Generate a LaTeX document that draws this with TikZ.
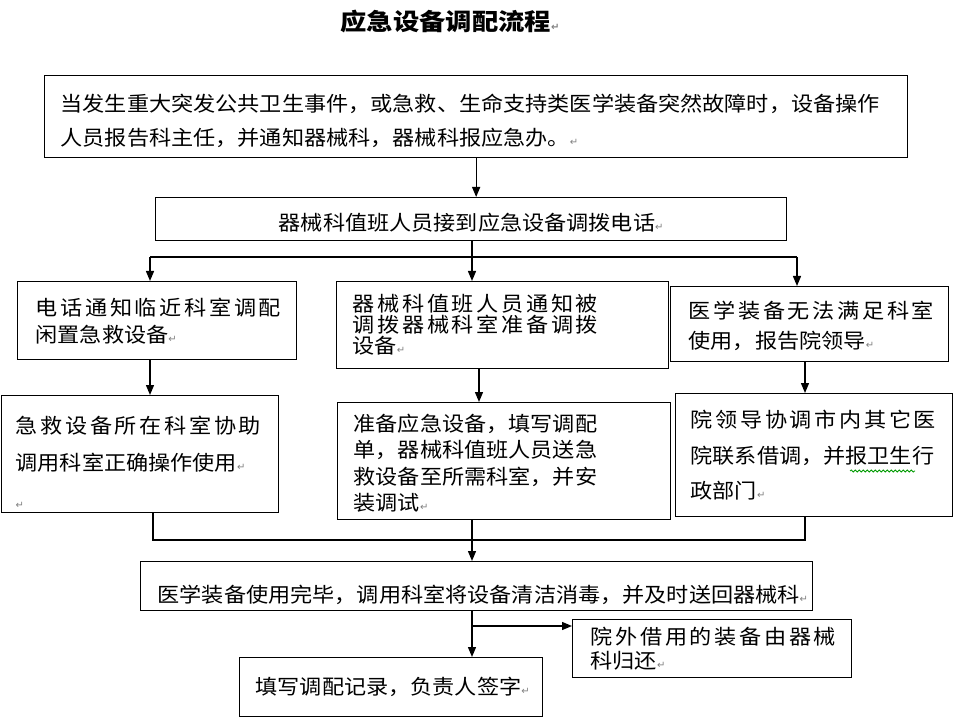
\documentclass[tikz,border=0pt]{standalone}
\usepackage{fontspec}
\usetikzlibrary{arrows.meta,decorations.pathmorphing}
\newfontfamily\cjk[FakeStretch=1.08]{Noto Sans CJK SC}
\newfontfamily\cjkw[FakeStretch=1.08,LetterSpace=13]{Noto Sans CJK SC}
\newfontfamily\cjkt[FakeStretch=1.12]{Noto Sans CJK SC}
\newfontfamily\djv{DejaVu Sans}
\newcommand\ret{{\djv\fontsize{10}{10}\selectfont\textcolor{gray}{↵}}}
\newcommand\dn[1]{\rule{0pt}{#1}}
\begin{document}
\begin{tikzpicture}[x=1pt,y=-1pt,line width=1.3pt,
  arr/.style={-{Triangle[length=10pt,width=8pt]}},
  box/.style={draw,line width=1.3pt,anchor=north west,inner ysep=0pt,align=left,
    font=\cjk\fontsize{20.5}{#1}\selectfont},
  box/.default=30pt,
  titletext/.style={anchor=west,inner sep=0pt,font=\cjkt\bfseries\fontsize{23.5}{23.5}\selectfont}]
\useasboundingbox (0,0) rectangle (962,722);

\node[titletext] (title) at (340,22) {应急设备调配流程\ret};

\node[box=34pt,text width=831pt,inner xsep=16pt,minimum height=82pt] (b1) at (44,75)
  {\dn{25pt}当发生重大突发公共卫生事件，或急救、生命支持类医学装备突然故障时，设备操作\\人员报告科主任，并通知器械科，器械科报应急办。\ret};
\node[box,align=center,text width=599pt,inner xsep=16pt,minimum height=43pt] (b2) at (155,197)
  {\dn{25pt}器械科值班人员接到应急设备调拨电话\ret};

\node[box=27pt,text width=243pt,inner xsep=18pt,minimum height=78pt] (b3) at (17,281)
  {{\cjkw 电话通知临近科室调配}\\闲置急救设备\ret};
\node[box=21pt,text width=300pt,inner xsep=16pt,minimum height=87pt] (b4) at (336,281)
  {{\cjkw 器械科值班人员通知被}\\{\cjkw 调拨器械科室准备调拨}\\设备\ret};
\node[box=30pt,text width=242pt,inner xsep=18pt,minimum height=75pt] (b5) at (670,286)
  {\dn{21pt}{\cjkw 医学装备无法满足科室}\\使用，报告院领导\ret};

\node[box=37.5pt,text width=249pt,inner xsep=14pt,minimum height=117pt] (b6) at (1,395)
  {\dn{33pt}{\cjkw 急救设备所在科室协助}\\调用科室正确操作使用\ret\\\ret};
\node[box=26.5pt,text width=301pt,inner xsep=16pt,minimum height=117pt] (b7) at (337,402)
  {\dn{21pt}准备应急设备，填写调配\\单，器械科值班人员送急\\救设备至所需科室，并安\\装调试\ret};
\node[box=35.5pt,text width=247pt,inner xsep=15pt,minimum height=123pt] (b8) at (675,393)
  {{\cjkw 院领导协调市内其它医}\\院联系借调，并报卫生行\\政部门\ret};

\node[box,text width=638pt,inner xsep=17pt,minimum height=49pt] (b9) at (140,561)
  {\dn{35pt}医学装备使用完毕，调用科室将设备清洁消毒，并及时送回器械科\ret};
\node[box,text width=271pt,inner xsep=16pt,minimum height=59pt] (b10) at (239,657)
  {填写调配记录，负责人签字\ret};
\node[box=24pt,text width=243pt,inner xsep=18pt,minimum height=58pt] (b11) at (572,619)
  {{\cjkw 院外借用的装备由器械}\\科归还\ret};

% split after b2
\coordinate (s1) at (472,257);
\coordinate (jL) at (150,257);
\coordinate (jR) at (797,257);
\draw (s1 |- b2.south) -- (s1);
\draw (jL) -- (jR);
\draw[arr] (jL) -- (jL |- b3.north);
\draw[arr] (s1) -- (s1 |- b4.north);
\draw[arr] (jR) -- (jR |- b5.north);

% b1 -> b2
\draw[arr] (b1.south) -- (b1.south |- b2.north);

% second row arrows
\coordinate (cL) at (150,380);
\coordinate (cM) at (479,380);
\coordinate (cR) at (805,380);
\draw[arr] (b3.south -| cL) -- (b6.north -| cL);
\draw[arr] (b4.south -| cM) -- (b7.north -| cM);
\draw[arr] (b5.south -| cR) -- (b8.north -| cR);

% merge
\coordinate (mL) at (153,540);
\coordinate (mM) at (472,540);
\coordinate (mR) at (805,540);
\draw (b6.south -| mL) -- (mL) -- (mR) -- (b8.south -| mR);
\draw (b7.south -| mM) -- (mM);
\draw[arr] (mM) -- (b9.north -| mM);
\draw[arr] (b9.south -| mM) -- (b10.north -| mM);
\coordinate (br) at (472,626);
\draw[arr] (br) -- (b11.west |- br);

% spell-check squiggle
\draw[green!60!black,line width=0.8pt,decorate,decoration={snake,amplitude=1pt,segment length=4pt}] (850,471) -- (915,471);
\end{tikzpicture}
\end{document}
